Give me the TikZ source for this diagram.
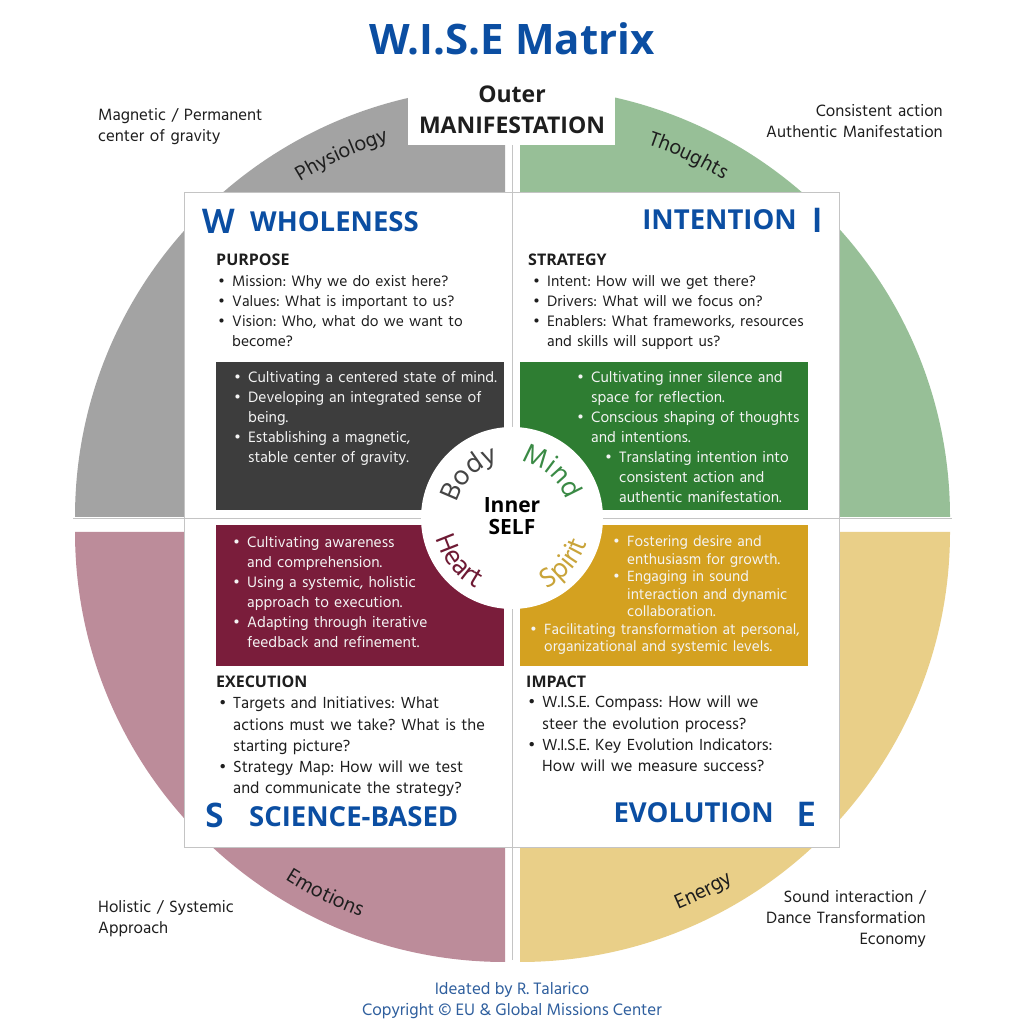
\documentclass[tikz,border=0pt]{standalone}
\usepackage{fontspec}
\setmainfont{Hind Madurai}
\newfontfamily\osb{Open Sans}
\usetikzlibrary{decorations.text}
\definecolor{qgrey}{HTML}{A3A3A3}
\definecolor{qgreen}{HTML}{97BF97}
\definecolor{qpink}{HTML}{BC8C9A}
\definecolor{qtan}{HTML}{E9CF88}
\definecolor{bdark}{HTML}{3D3D3D}
\definecolor{bgreen}{HTML}{2E7D32}
\definecolor{bmaroon}{HTML}{7A1D3B}
\definecolor{bgold}{HTML}{D4A120}
\definecolor{wblue}{HTML}{0B4EA2}
\definecolor{fblue}{HTML}{2F5F9E}
\definecolor{txt}{HTML}{1E1E1E}
\definecolor{wtxt}{HTML}{F4F4F4}
\definecolor{linegrey}{HTML}{C4C4C4}
\definecolor{cmind}{HTML}{3A8A45}
\definecolor{cspirit}{HTML}{C9A43A}
\definecolor{cbody}{HTML}{454545}
\definecolor{cheart}{HTML}{6E1A34}
\newlength\bind \setlength\bind{14pt}
\newcommand\nl{\hfil\break}
\newcommand\bfirst{\hangindent=\bind\hangafter=1\makebox[\bind][l]{\textbullet}}
\newcommand\bitem{\par\noindent\bfirst}
\newcommand\bsubfirst[1]{\hangindent=\dimexpr\bind+#1\relax\hangafter=1\hspace*{#1}\makebox[\bind][l]{\textbullet}}
\newcommand\bsub[1]{\par\noindent\bsubfirst{#1}}
\newcommand\cvfont{\fontsize{21}{21}\selectfont}
\newcommand\cvbig{\fontsize{28}{28}\selectfont}
\begin{document}
\frenchspacing
\begin{tikzpicture}[x=1pt,y=1pt,
  body/.style={font=\fontsize{15.5}{20}\selectfont, text=txt, inner sep=0pt, text width=340pt, align=left, anchor=base west},
  wbody/.style={body, text=wtxt},
  lowbody/.style={body, font=\fontsize{16.5}{21.2}\selectfont},
  hdr/.style={font=\osb\fontsize{16}{16}\selectfont\bfseries, text=txt, inner sep=0pt, anchor=base west},
  ttl/.style={font=\osb\fontsize{27.5}{27.5}\selectfont\bfseries, text=wblue, inner sep=0pt},
  big/.style={font=\fontsize{36}{36}\selectfont\bfseries, text=wblue, inner sep=0pt},
  corner/.style={font=\fontsize{16.8}{21}\selectfont, text=txt, inner sep=0pt, text width=240pt},
  foot/.style={font=\fontsize{17}{17}\selectfont, text=fblue, inner sep=0pt, anchor=base},
  outerlbl/.style={font=\osb\fontsize{23}{23}\selectfont\bfseries, text=txt, inner sep=0pt, anchor=base},
  innerlbl/.style={font=\osb\fontsize{21}{21}\selectfont\bfseries, text=black, inner sep=0pt, anchor=base},
  divider/.style={draw=linegrey, line width=0.8pt}]
\useasboundingbox (0,0) rectangle (1024,1024);
\fill[white] (0,0) rectangle (1024,1024);
% quadrants
\fill[qgrey] (505,507) -- (75,507) arc[start angle=180,end angle=90,radius=430] -- cycle;
\fill[qgreen] (520,507) -- (520,937) arc[start angle=90,end angle=0,radius=430] -- cycle;
\fill[qpink] (505,492) -- (75,492) arc[start angle=180,end angle=270,radius=430] -- cycle;
\fill[qtan] (520,492) -- (950,492) arc[start angle=0,end angle=-90,radius=430] -- cycle;
% white label box
\fill[white] (408,879) rectangle (615,960);
% dividers
\path[divider] (512,64) -- (512,879);
\path[divider] (73,506) -- (952,506);
% matrix
\draw[linegrey, fill=white, line width=1pt] (184,176) rectangle (839,831);
\path[divider] (512,176) -- (512,831);
\path[divider] (184,506) -- (839,506);
% coloured boxes
\fill[bdark] (216,514) rectangle (504,662);
\fill[bgreen] (520,514) rectangle (808,662);
\fill[bmaroon] (216,358) rectangle (504,499);
\fill[bgold] (520,358) rectangle (808,499);
\fill[white] (512,506) circle[radius=91];

% title
\node[font=\osb\fontsize{42}{42}\selectfont\bfseries, text=wblue, inner sep=0pt, anchor=base] (title) at (512,969) {W.I.S.E Matrix};
\node[outerlbl] (outer1) at (512,921) {Outer};
\node[outerlbl] (outer2) at (512,890) {MANIFESTATION};

% corners
\node[corner, align=left, anchor=base west] (ctl) at (98,903) {Magnetic / Permanent\\center of gravity};
\node[corner, align=right, anchor=base east] (ctr) at (943,907) {Consistent action\\Authentic Manifestation};
\node[corner, align=left, anchor=base west] (cbl) at (98,111) {Holistic / Systemic\\Approach};
\node[corner, align=right, anchor=base east] (cbr) at (926,121) {Sound interaction /\\Dance Transformation\\Economy};

% footer
\node[foot] (foot1) at (512,29) {Ideated by R. Talarico};
\node[foot] (foot2) at (512,9) {Copyright © EU \& Global Missions Center};

% W quadrant
\node[big, anchor=base west] (bigw) at (201,790) {W};
\node[ttl, anchor=base west] (wtitle) at (250,792) {WHOLENESS};
\node[hdr] (purpose) at (216,758) {PURPOSE};
\node[body] (wlist) at (218,737) {\bfirst Mission: Why we do exist here?\bitem Values: What is important to us?\bitem Vision: Who, what do we want to\nl become?\par};
\node[wbody] (wbox) at (234,641) {\bfirst Cultivating a centered state of mind.\bitem Developing an integrated sense of\nl being.\bitem Establishing a magnetic,\nl stable center of gravity.\par};

% I quadrant
\node[ttl, anchor=base east] (ititle) at (797,794) {INTENTION};
\node[big, anchor=base west] (bigi) at (812,791) {I};
\node[hdr] (strategy) at (528,758) {STRATEGY};
\node[body] (ilist) at (533,737) {\bfirst Intent: How will we get there?\bitem Drivers: What will we focus on?\bitem Enablers: What frameworks, resources\nl and skills will support us?\par};
\node[wbody] (ibox) at (577,641) {\bfirst Cultivating inner silence and\nl space for reflection.\bitem Conscious shaping of thoughts\nl and intentions.\bsub{28pt}Translating intention into\nl consistent action and\nl authentic manifestation.\par};

% S quadrant
\node[wbody] (sbox) at (233,476) {\bfirst Cultivating awareness\nl and comprehension.\bitem Using a systemic, holistic\nl approach to execution.\bitem Adapting through iterative\nl feedback and refinement.\par};
\node[hdr] (execution) at (216,336) {EXECUTION};
\node[lowbody] (slist) at (219,315) {\bfirst Targets and Initiatives: What\nl actions must we take? What is the\nl starting picture?\bitem Strategy Map: How will we test\nl and communicate the strategy?\par};
\node[big, anchor=base west] (bigs) at (205,196) {S};
\node[ttl, anchor=base west] (stitle) at (249,197) {SCIENCE-BASED};

% E quadrant
\node[wbody, font=\fontsize{15.2}{17.5}\selectfont] (ebox) at (530,477) {\bsubfirst{83pt}Fostering desire and\nl enthusiasm for growth.\bsub{83pt}Engaging in sound\nl interaction and dynamic\nl collaboration.\bitem Facilitating transformation at personal,\nl organizational and systemic levels.\par};
\node[hdr] (impact) at (526,336) {IMPACT};
\node[lowbody] (elist) at (528,316) {\bfirst W.I.S.E. Compass: How will we\nl steer the evolution process?\bitem W.I.S.E. Key Evolution Indicators:\nl How will we measure success?\par};
\node[ttl, anchor=base east] (etitle) at (774,201) {EVOLUTION};
\node[big, anchor=base west] (bige) at (797,197) {E};

% inner self
\node[innerlbl] (inner1) at (512,511) {Inner};
\node[innerlbl] (inner2) at (512,489) {SELF};

% curved words, outer ring
\path[decorate, decoration={text along path, text align=center, text={|\cvfont\color{txt}|Physiology}}] ([shift={(134.3:393)}]505,507) arc[start angle=134.3, end angle=94.3, radius=393];
\path[decorate, decoration={text along path, text align=center, text={|\cvfont\color{txt}|Thoughts}}] ([shift={(85:394)}]520,507) arc[start angle=85, end angle=45, radius=394];
\path[decorate, decoration={text along path, text align=center, text={|\cvfont\color{txt}|Emotions}}] ([shift={(223.6:411)}]505,492) arc[start angle=223.6, end angle=263.6, radius=411];
\path[decorate, decoration={text along path, text align=center, text={|\cvfont\color{txt}|Energy}}] ([shift={(277.1:410)}]520,492) arc[start angle=277.1, end angle=317.1, radius=410];

% curved words, inner circle
\path[decorate, decoration={text along path, text align=center, text={|\cvbig\color{cbody}|Body}}] ([shift={(184:57)}]512,506) arc[start angle=184, end angle=84, radius=57];
\path[decorate, decoration={text along path, text align=center, text={|\cvbig\color{cmind}|Mind}}] ([shift={(99.5:57)}]512,506) arc[start angle=99.5, end angle=-0.5, radius=57];
\path[decorate, decoration={text along path, text align=center, text={|\cvbig\color{cheart}|Heart}}] ([shift={(169:79)}]512,506) arc[start angle=169, end angle=269, radius=79];
\path[decorate, decoration={text along path, text align=center, text={|\cvbig\color{cspirit}|Spirit}}] ([shift={(269:79)}]512,506) arc[start angle=269, end angle=369, radius=79];
\end{tikzpicture}
\end{document}
